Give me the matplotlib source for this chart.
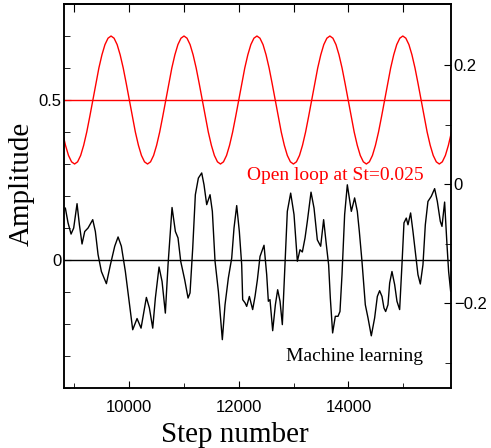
import matplotlib.pyplot as plt
from matplotlib.ticker import MultipleLocator, FixedLocator

# open loop forcing (red curve)
ol_steps = [8785, 8841, 8896, 8952,
            9007, 9062, 9118, 9173, 9229, 9284, 9340, 9395, 9450, 9506, 9561, 9617,
            9672, 9727, 9783, 9838, 9894, 9949, 10005, 10060, 10115, 10171, 10226, 10282,
            10337, 10392, 10448, 10503, 10559, 10614, 10670, 10725, 10780, 10836, 10891, 10947,
            11002, 11057, 11113, 11168, 11224, 11279, 11335, 11390, 11445, 11501, 11556, 11612,
            11667, 11722, 11778, 11833, 11889, 11944, 12000, 12055, 12110, 12166, 12221, 12277,
            12332, 12387, 12443, 12498, 12554, 12609, 12665, 12720, 12775, 12831, 12886, 12942,
            12997, 13052, 13108, 13163, 13219, 13274, 13330, 13385, 13440, 13496, 13551, 13607,
            13662, 13717, 13773, 13828, 13884, 13939, 13995, 14050, 14105, 14161, 14216, 14272,
            14327, 14382, 14438, 14493, 14549, 14604, 14660, 14715, 14770, 14826, 14881, 14937,
            14992, 15047, 15103, 15158, 15214, 15269, 15325, 15380, 15435, 15491, 15546, 15602,
            15657, 15712, 15768, 15823, 15879]
ol_cycle = [0.3, 0.3068, 0.3268, 0.3586, 0.4, 0.4482, 0.5, 0.5518, 0.6, 0.6414, 0.6732, 0.6932,
            0.7, 0.6932, 0.6732, 0.6414, 0.6, 0.5518, 0.5, 0.4482, 0.4, 0.3586, 0.3268, 0.3068]
ol_amp = [0.4, 0.3586, 0.3268, 0.3068] + ol_cycle * 5 + [0.3, 0.3068, 0.3268, 0.3586, 0.4]

# machine learning control (black curve)
ml_steps = [8839, 8888, 8943, 8991, 9052, 9095, 9143, 9192, 9253, 9338,
            9386, 9435, 9496, 9587, 9660, 9739, 9800, 9860, 9933, 9994,
            10067, 10146, 10219, 10316, 10371, 10432, 10480, 10547, 10602, 10662,
            10711, 10784, 10845, 10893, 10942, 11015, 11076,
            11112, 11161, 11209, 11264, 11325, 11367, 11416, 11477, 11519, 11568,
            11629, 11701, 11750, 11811, 11872, 11914, 11963, 12011, 12054, 12072,
            12115, 12145, 12194, 12254, 12297, 12340, 12388, 12461, 12510, 12540,
            12570, 12619, 12668, 12710, 12753, 12795, 12844, 12886, 12947, 13008,
            13069, 13117, 13160, 13209, 13251, 13318, 13373, 13433,
            13494, 13548, 13597, 13639, 13670, 13712, 13761, 13810, 13846, 13883,
            13931, 13980, 14034, 14053, 14113, 14162, 14199, 14247, 14308, 14357,
            14417, 14478, 14527, 14569, 14612, 14648, 14679, 14721, 14752, 14794,
            14843, 14885, 14934, 14976, 15013, 15055, 15086, 15134, 15177, 15219,
            15268, 15311, 15359, 15402, 15450, 15511, 15572, 15621, 15675, 15706,
            15754, 15797, 15827, 15864]
ml_amp = [0.162, 0.116, 0.081, 0.100, 0.176, 0.110, 0.050, 0.089, 0.100, 0.126,
          0.089, 0.017, -0.036, -0.074, -0.015, 0.043, 0.072, 0.043, -0.036, -0.119,
          -0.218, -0.183, -0.213, -0.117, -0.150, -0.213, -0.119, -0.022, -0.067, -0.166,
          -0.015, 0.164, 0.089, 0.069, -0.004, -0.062, -0.119,
          -0.103, 0.037, 0.204, 0.256, 0.272, 0.235, 0.173, 0.204, 0.152, -0.004,
          -0.098, -0.249, -0.140, -0.056, 0.006, 0.100, 0.170, 0.089, -0.015, -0.124,
          -0.134, -0.145, -0.114, -0.155, -0.114, -0.062, 0.011, 0.046, -0.046, -0.129,
          -0.124, -0.221, -0.140, -0.093, -0.129, -0.202, -0.015, 0.152, 0.209, 0.142,
          -0.004, 0.032, 0.025, 0.069, 0.121, 0.212, 0.162, 0.063,
          0.043, 0.126, 0.048, -0.015, -0.119, -0.228, -0.176, -0.176, -0.161, -0.046,
          0.142, 0.235, 0.173, 0.152, 0.194, 0.152, 0.089, -0.004, -0.140, -0.181,
          -0.237, -0.181, -0.114, -0.096, -0.114, -0.150, -0.161, -0.140, -0.072, -0.036,
          -0.077, -0.129, -0.155, -0.015, 0.116, 0.131, 0.110, 0.147, 0.089, 0.027,
          -0.046, -0.075, -0.015, 0.110, 0.183, 0.199, 0.223, 0.183, 0.121, 0.105,
          0.181, 0.048, -0.036, -0.098]

serif = ['Liberation Serif', 'DejaVu Serif']
plt.rcParams['font.family'] = ['Liberation Sans', 'DejaVu Sans']

fig = plt.figure(figsize=(4.91, 4.48), dpi=100)
ax = fig.add_axes([0.131, 0.134, 0.7875, 0.857])

ax.plot(ol_steps, ol_amp, color='#ff0000', lw=1.0, solid_joinstyle='round')
ax.axhline(0.5, color='#ff0000', lw=1.0)
ax.plot(ml_steps, ml_amp, color='black', lw=1.0, solid_joinstyle='round')
ax.axhline(0.0, color='black', lw=1.0)

ax.set_xlim(8820, 15870)
ax.set_ylim(-0.4, 0.8)
ax.xaxis.set_major_locator(MultipleLocator(2000))
ax.xaxis.set_minor_locator(MultipleLocator(1000))
ax.yaxis.set_major_locator(FixedLocator([0, 0.5]))
ax.yaxis.set_minor_locator(MultipleLocator(0.1))
ax.set_yticklabels(['0', '0.5'])
ax.tick_params(which='both', direction='in', labelsize=12, right=False, top=False)
ax.tick_params(axis='y', which='major', length=5, pad=2)
ax.tick_params(axis='y', which='minor', length=4)
ax.tick_params(axis='x', which='major', length=5, pad=9)
ax.tick_params(axis='x', which='minor', length=3.5)

top = ax.secondary_xaxis('top')
top.set_xticks(range(9000, 16000, 1000))
top.tick_params(direction='in', length=6, labeltop=False)
top.minorticks_off()

ax2 = ax.twinx()
ax2.set_ylim(-0.342, 0.303)
ax2.yaxis.set_major_locator(FixedLocator([-0.2, 0, 0.2]))
ax2.yaxis.set_minor_locator(FixedLocator([-0.3, -0.1, 0.1]))
ax2.set_yticklabels(['\u22120.2', '0', '0.2'])
ax2.tick_params(which='both', direction='in', labelsize=12, pad=2)
ax2.tick_params(which='major', length=5)
ax2.tick_params(which='minor', length=4)

for a in (ax, ax2):
    for s in a.spines.values():
        s.set_linewidth(1.1)
top.spines['top'].set_linewidth(1.1)

ax.text(0.928, 0.542, 'Open loop at St=0.025', transform=ax.transAxes, ha='right',
        va='baseline', color='#ff0000', fontsize=14, family=serif)
ax.text(0.928, 0.070, 'Machine learning', transform=ax.transAxes, ha='right',
        va='baseline', color='black', fontsize=14, family=serif)

fig.text(0.479, 0.0135, 'Step number', ha='center', va='baseline', fontsize=21, family=serif)
fig.text(0.045, 0.590, 'Amplitude', ha='center', va='center', rotation=90, fontsize=21,
         family=serif)

fig.savefig('out.png', dpi=100)
